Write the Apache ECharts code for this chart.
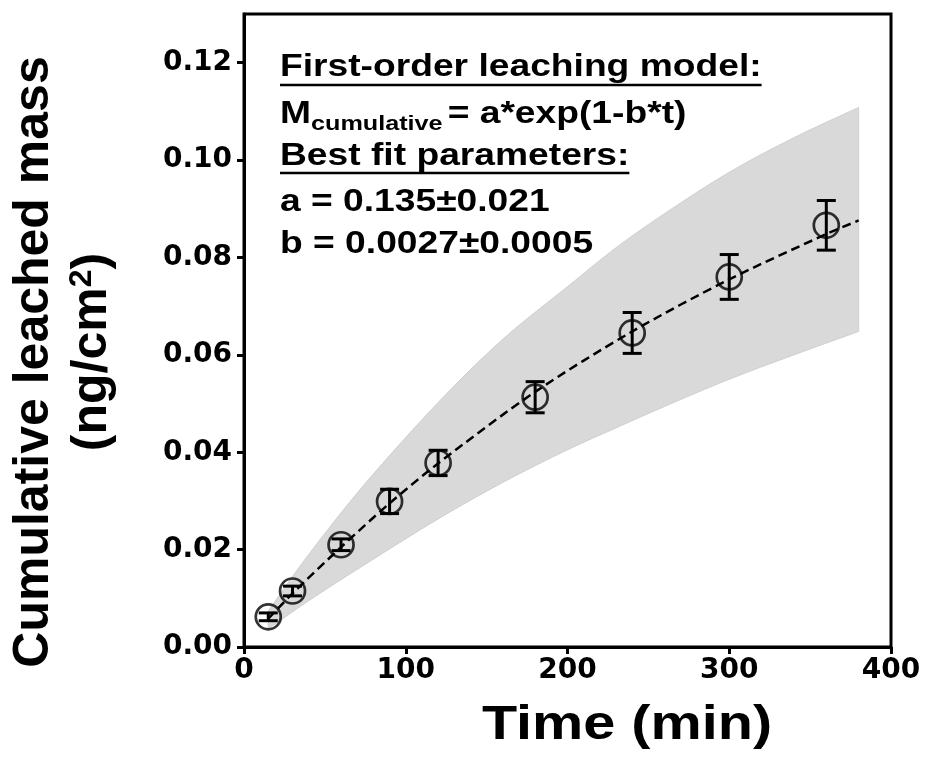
<!DOCTYPE html>
<html>
<head>
<meta charset="utf-8">
<script src="https://cdn.jsdelivr.net/npm/echarts@6/dist/echarts.min.js"></script>
<style>
  html, body { margin: 0; padding: 0; background: #fff; }
  #main { width: 927px; height: 765px; }
</style>
</head>
<body>
<div id="main"></div>
<script>
// measured points (mean +- error)
let timeMin = [15, 30, 60, 90, 120, 180, 240, 300, 360];
let massMean = [0.0062, 0.0115, 0.0210, 0.0299, 0.0378, 0.0513, 0.0645, 0.0760, 0.0866];
let massErr = [0.0008, 0.0010, 0.0012, 0.0025, 0.0026, 0.0032, 0.0042, 0.0046, 0.0051];

// dashed fit line
let fitTime = [15, 30, 60, 90, 120, 180, 240, 300, 360, 380];
let fitMass = [0.0058, 0.0110, 0.0205, 0.0295, 0.0377, 0.0524, 0.0648, 0.0755, 0.0848, 0.0876];

// grey band edges
let bandTime = [15, 40, 75, 120, 160, 200, 230, 260, 300, 340, 380];
let bandUpper = [0.0074, 0.0190, 0.0336, 0.0502, 0.0632, 0.0740, 0.0820, 0.0890, 0.0975, 0.1046, 0.1108];
let bandLower = [0.0037, 0.0095, 0.0170, 0.0263, 0.0338, 0.0405, 0.0450, 0.0494, 0.0550, 0.0600, 0.0648];

let xTicks = [0, 100, 200, 300, 400];
let yTicks = [0, 0.02, 0.04, 0.06, 0.08, 0.10, 0.12];

let FONT = '"Liberation Sans", Arial, sans-serif';
let SX = 1.2; // text in the picture is a bit wide

let ctx = document.createElement('canvas').getContext('2d');
function textW(str, size) {
  ctx.font = 'bold ' + size + 'px ' + FONT;
  return ctx.measureText(str).width * SX;
}

function txt(str, x, y, size) {
  return {
    type: 'text', x: x, y: y, scaleX: SX, z: 100,
    style: { text: str, fontSize: size, fontWeight: 'bold', fontFamily: FONT, fill: '#000', verticalAlign: 'middle' }
  };
}
function uline(x, y, w) {
  return { type: 'line', z: 100, shape: { x1: x, y1: y, x2: x + w, y2: y }, style: { stroke: '#000', lineWidth: 2.5 } };
}

// smooth path (catmull-rom) through pixel points
function curveTo(pts) {
  let d = '';
  for (let i = 0; i < pts.length - 1; i++) {
    let p0 = pts[Math.max(i - 1, 0)], p1 = pts[i], p2 = pts[i + 1], p3 = pts[Math.min(i + 2, pts.length - 1)];
    let c1 = [p1[0] + (p2[0] - p0[0]) / 6, p1[1] + (p2[1] - p0[1]) / 6];
    let c2 = [p2[0] - (p3[0] - p1[0]) / 6, p2[1] - (p3[1] - p1[1]) / 6];
    d += ' C' + c1[0] + ',' + c1[1] + ' ' + c2[0] + ',' + c2[1] + ' ' + p2[0] + ',' + p2[1];
  }
  return d;
}

let tx = 280;
let subX = tx + textW('M', 31);
let eqX = subX + textW('cumulative', 21) + 5;

let graphics = [
  txt('First-order leaching model:', tx, 67, 31),
  uline(tx, 85, textW('First-order leaching model:', 31)),
  txt('M', tx, 114, 31),
  txt('cumulative', subX, 124, 21),
  txt('= a*exp(1-b*t)', eqX, 114, 31),
  txt('Best fit parameters:', tx, 156, 31),
  uline(tx, 173, textW('Best fit parameters:', 31)),
  txt('a = 0.135\u00b10.021', tx, 202, 31),
  txt('b = 0.0027\u00b10.0005', tx, 244, 31),
  // axis titles
  {
    type: 'text', x: 627, y: 726, scaleX: SX,
    style: { text: 'Time (min)', fontSize: 48, fontWeight: 'bold', fontFamily: FONT, fill: '#000', align: 'center', verticalAlign: 'middle' }
  },
  {
    type: 'text', x: 34, y: 362, rotation: Math.PI / 2,
    style: { text: 'Cumulative leached mass', fontSize: 50, fontWeight: 'bold', fontFamily: FONT, fill: '#000', align: 'center', verticalAlign: 'middle' }
  },
  {
    type: 'text', x: 92, y: 352, rotation: Math.PI / 2,
    style: {
      text: '{a|(ng/cm}{s|2}{a|)}', align: 'center', verticalAlign: 'middle',
      rich: {
        a: { fontSize: 50, fontWeight: 'bold', fontFamily: FONT, fill: '#000' },
        s: { fontSize: 32, fontWeight: 'bold', fontFamily: FONT, fill: '#000', verticalAlign: 'top', padding: [0, 0, 20, 0] }
      }
    }
  }
];

let myChart = echarts.init(document.getElementById('main'));

let option = {
  backgroundColor: '#fff',
  animation: false,
  grid: {
    left: 244, right: 36, top: 14, bottom: 118,
    show: true, borderColor: '#000', borderWidth: 3, z: 10
  },
  xAxis: {
    type: 'value', min: 0, max: 400, interval: 100, z: 10,
    axisLine: { show: true, lineStyle: { color: '#000', width: 3 } },
    axisTick: { show: true, length: 7, lineStyle: { color: '#000', width: 3 }, customValues: xTicks },
    axisLabel: { color: '#000', fontSize: 28, fontWeight: 'bold', fontFamily: 'DejaVu Sans', margin: 10, customValues: xTicks },
    splitLine: { show: false }
  },
  yAxis: {
    type: 'value', min: 0, max: 0.13, interval: 0.02, z: 10,
    axisLine: { show: true, lineStyle: { color: '#000', width: 3 } },
    axisTick: { show: true, length: 7, lineStyle: { color: '#000', width: 3 }, customValues: yTicks },
    axisLabel: {
      color: '#000', fontSize: 28, fontWeight: 'bold', fontFamily: 'DejaVu Sans', margin: 12,
      customValues: yTicks,
      formatter: function (v) { return v.toFixed(2); }
    },
    splitLine: { show: false }
  },
  graphic: graphics,
  series: [
    {
      // confidence band: upper edge out, lower edge back
      name: 'band', type: 'custom', z: 1, silent: true,
      data: [[bandTime[0], bandLower[0]]],
      renderItem: function (params, api) {
        let up = bandTime.map(function (t, i) { return api.coord([t, bandUpper[i]]); });
        let low = bandTime.map(function (t, i) { return api.coord([t, bandLower[i]]); }).reverse();
        let d = 'M' + up[0][0] + ',' + up[0][1] + curveTo(up) +
          ' L' + low[0][0] + ',' + low[0][1] + curveTo(low) + ' Z';
        return {
          type: 'path',
          shape: { pathData: d },
          style: { fill: '#d9d9d9', stroke: '#cfcfcf', lineWidth: 1 }
        };
      }
    },
    {
      name: 'fit', type: 'line', smooth: 0.3, z: 2,
      symbol: 'none', silent: true,
      lineStyle: { color: '#000', width: 2.5, type: [9, 5] },
      data: fitTime.map(function (t, i) { return [t, fitMass[i]]; })
    },
    {
      name: 'err', type: 'custom', z: 3, silent: true,
      encode: { x: 0, y: [1, 2] },
      data: timeMin.map(function (t, i) { return [t, massMean[i] - massErr[i], massMean[i] + massErr[i]]; }),
      renderItem: function (params, api) {
        let lo = api.coord([api.value(0), api.value(1)]);
        let hi = api.coord([api.value(0), api.value(2)]);
        let c = 9.5;
        let st = { stroke: '#000', lineWidth: 3 };
        return {
          type: 'group',
          children: [
            { type: 'line', shape: { x1: lo[0], y1: lo[1], x2: hi[0], y2: hi[1] }, style: st },
            { type: 'line', shape: { x1: lo[0] - c, y1: lo[1], x2: lo[0] + c, y2: lo[1] }, style: st },
            { type: 'line', shape: { x1: hi[0] - c, y1: hi[1], x2: hi[0] + c, y2: hi[1] }, style: st }
          ]
        };
      }
    },
    {
      name: 'data', type: 'scatter', z: 4, silent: true,
      symbol: 'circle', symbolSize: 25,
      itemStyle: { color: 'rgba(0,0,0,0)', borderColor: '#000', borderWidth: 2.7 },
      data: timeMin.map(function (t, i) { return [t, massMean[i]]; })
    }
  ]
};

myChart.setOption(option);
</script>
</body>
</html>
